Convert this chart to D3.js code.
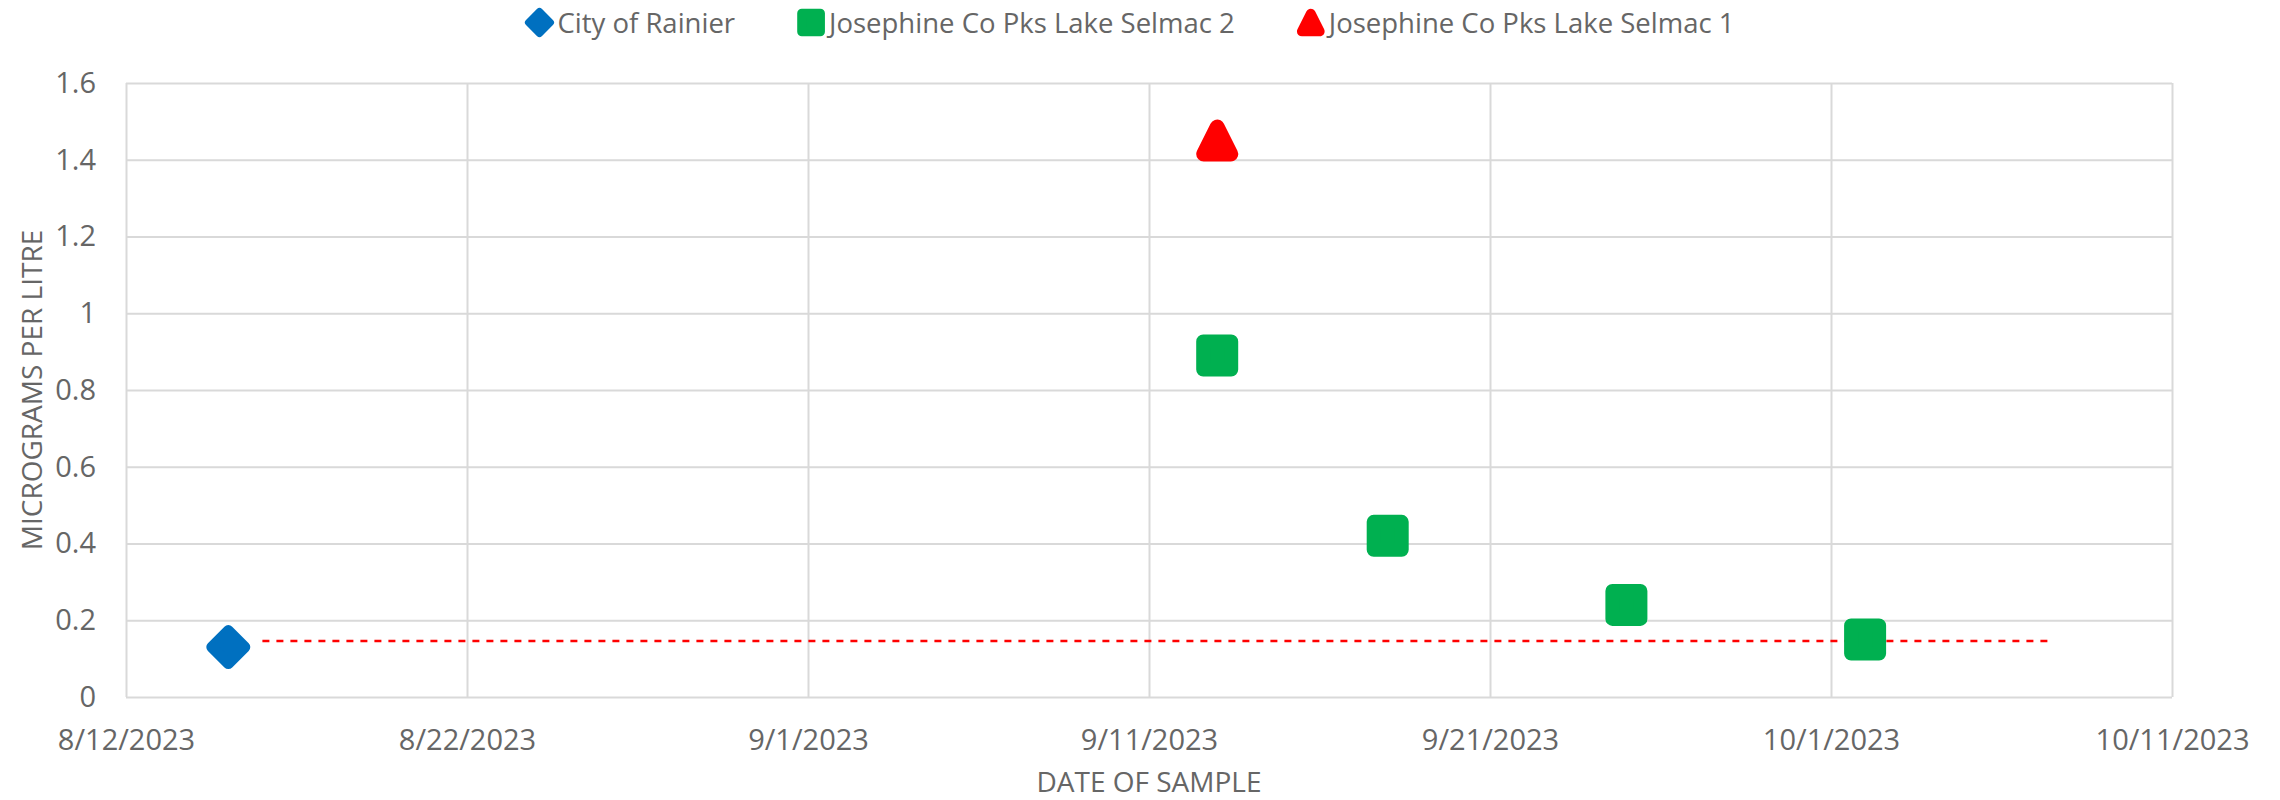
<!DOCTYPE html>
<html>
<head>
<meta charset="utf-8">
<script src="https://cdn.jsdelivr.net/npm/d3@7"></script>
<style>
  body { margin: 0; background: #fff; }
  text { font-family: "Open Sans", sans-serif; fill: #666666; }
  .grid line { stroke: #d9d9d9; stroke-width: 2; }
  .grid path { display: none; }
</style>
</head>
<body>
<div id="chart"></div>
<script>
// data
var seriesNames = ["City of Rainier", "Josephine Co Pks Lake Selmac 2", "Josephine Co Pks Lake Selmac 1"];
var seriesColors = ["#0070c0", "#00b050", "#ff0000"];
var seriesShapes = ["diamond", "square", "triangle"];

var rainierDates = ["8/15/2023"];
var rainierValues = [0.13];

var selmac2Dates = ["9/13/2023", "9/18/2023", "9/25/2023", "10/2/2023"];
var selmac2Values = [0.89, 0.42, 0.24, 0.15];

var selmac1Dates = ["9/13/2023"];
var selmac1Values = [1.45];

var limitDates = ["8/16/2023 00:00", "10/7/2023 12:00"];
var limitValues = [0.146, 0.146];

var xTickLabels = ["8/12/2023", "8/22/2023", "9/1/2023", "9/11/2023", "9/21/2023", "10/1/2023", "10/11/2023"];
var yTickValues = [0, 0.2, 0.4, 0.6, 0.8, 1, 1.2, 1.4, 1.6];

var svgWidth = 2280;
var svgHeight = 800;
var margin = { top: 83, right: 108, bottom: 103, left: 126 };
var width = svgWidth - margin.left - margin.right;
var height = svgHeight - margin.top - margin.bottom;

var parseDate = d3.timeParse("%m/%d/%Y");
var parseDateTime = d3.timeParse("%m/%d/%Y %H:%M");

var svg = d3.select("#chart")
  .append("svg")
  .attr("width", svgWidth)
  .attr("height", svgHeight);

var chartGroup = svg.append("g")
  .attr("transform", `translate(${margin.left}, ${margin.top})`);

var xTimeScale = d3.scaleTime()
  .domain([parseDate(xTickLabels[0]), parseDate(xTickLabels[xTickLabels.length - 1])])
  .range([0, width]);

var yLinearScale = d3.scaleLinear()
  .domain([0, 1.6])
  .range([height, 0]);

// x grid + labels
var bottomAxis = d3.axisBottom(xTimeScale)
  .tickValues(xTickLabels.map(parseDate))
  .tickSize(-height)
  .tickPadding(32)
  .tickFormat((d, i) => xTickLabels[i]);

chartGroup.append("g")
  .classed("grid", true)
  .attr("transform", `translate(0, ${height})`)
  .call(bottomAxis)
  .selectAll("text")
  .style("font-size", "29px");

// y grid + labels
var leftAxis = d3.axisLeft(yLinearScale)
  .tickValues(yTickValues)
  .tickSize(-width)
  .tickPadding(30)
  .tickFormat(d3.format("~g"));

chartGroup.append("g")
  .classed("grid", true)
  .call(leftAxis)
  .selectAll("text")
  .style("font-size", "29px");

d3.selectAll(".grid text").attr("fill", null);

// marker shapes with rounded corners (round join)
function markerPath(shape, k) {
  if (shape === "diamond") {
    var d = 16.5 * k;
    return `M0,${-d}L${d},0L0,${d}L${-d},0Z`;
  }
  if (shape === "square") {
    var s = 14 * k;
    return `M${-s},${-s}H${s}V${s}H${-s}Z`;
  }
  var t = 13.5 * k;
  return `M0,${-t}L${t},${t}L${-t},${t}Z`;
}
function markerStroke(shape, k) {
  if (shape === "diamond") return 11 * k;
  if (shape === "square") return 14 * k;
  return 15 * k;
}

// dashed limit line
var limitLine = d3.line()
  .x(d => xTimeScale(d.date))
  .y(d => yLinearScale(d.value));

chartGroup.append("path")
  .datum(limitDates.map((d, i) => ({ date: parseDateTime(d), value: limitValues[i] })))
  .attr("d", limitLine)
  .attr("fill", "none")
  .attr("stroke", "#ff0000")
  .attr("stroke-width", 2.5)
  .attr("stroke-dasharray", "7,7");

// points
var seriesData = [
  rainierDates.map((d, i) => ({ date: parseDate(d), value: rainierValues[i] })),
  selmac2Dates.map((d, i) => ({ date: parseDate(d), value: selmac2Values[i] })),
  selmac1Dates.map((d, i) => ({ date: parseDate(d), value: selmac1Values[i] }))
];

seriesData.forEach(function(points, s) {
  chartGroup.append("g").selectAll("path")
    .data(points)
    .enter()
    .append("path")
    .attr("transform", d => `translate(${xTimeScale(d.date)}, ${yLinearScale(d.value)})`)
    .attr("d", markerPath(seriesShapes[s], 1))
    .attr("fill", seriesColors[s])
    .attr("stroke", seriesColors[s])
    .attr("stroke-width", markerStroke(seriesShapes[s], 1))
    .attr("stroke-linejoin", "round");
});

// axis titles
svg.append("text")
  .attr("transform", `translate(41.5, ${margin.top + height / 2}) rotate(-90)`)
  .attr("text-anchor", "middle")
  .style("font-size", "28px")
  .text("MICROGRAMS PER LITRE");

svg.append("text")
  .attr("x", margin.left + width / 2)
  .attr("y", 792)
  .attr("text-anchor", "middle")
  .style("font-size", "28px")
  .text("DATE OF SAMPLE");

// legend
var legend = svg.append("g");
var legendX = 0;
seriesNames.forEach(function(name, i) {
  var item = legend.append("g").attr("transform", `translate(${legendX}, 0)`);
  item.append("path")
    .attr("transform", "translate(14, 22.5)")
    .attr("d", markerPath(seriesShapes[i], 0.66))
    .attr("fill", seriesColors[i])
    .attr("stroke", seriesColors[i])
    .attr("stroke-width", markerStroke(seriesShapes[i], 0.66))
    .attr("stroke-linejoin", "round");
  var label = item.append("text")
    .attr("x", 32)
    .attr("y", 33)
    .style("font-size", "27.5px")
    .text(name);
  legendX += 32 + label.node().getComputedTextLength() + 62;
});
var legendWidth = legendX - 62;
legend.attr("transform", `translate(${1130 - legendWidth / 2}, 0)`);
</script>
</body>
</html>
